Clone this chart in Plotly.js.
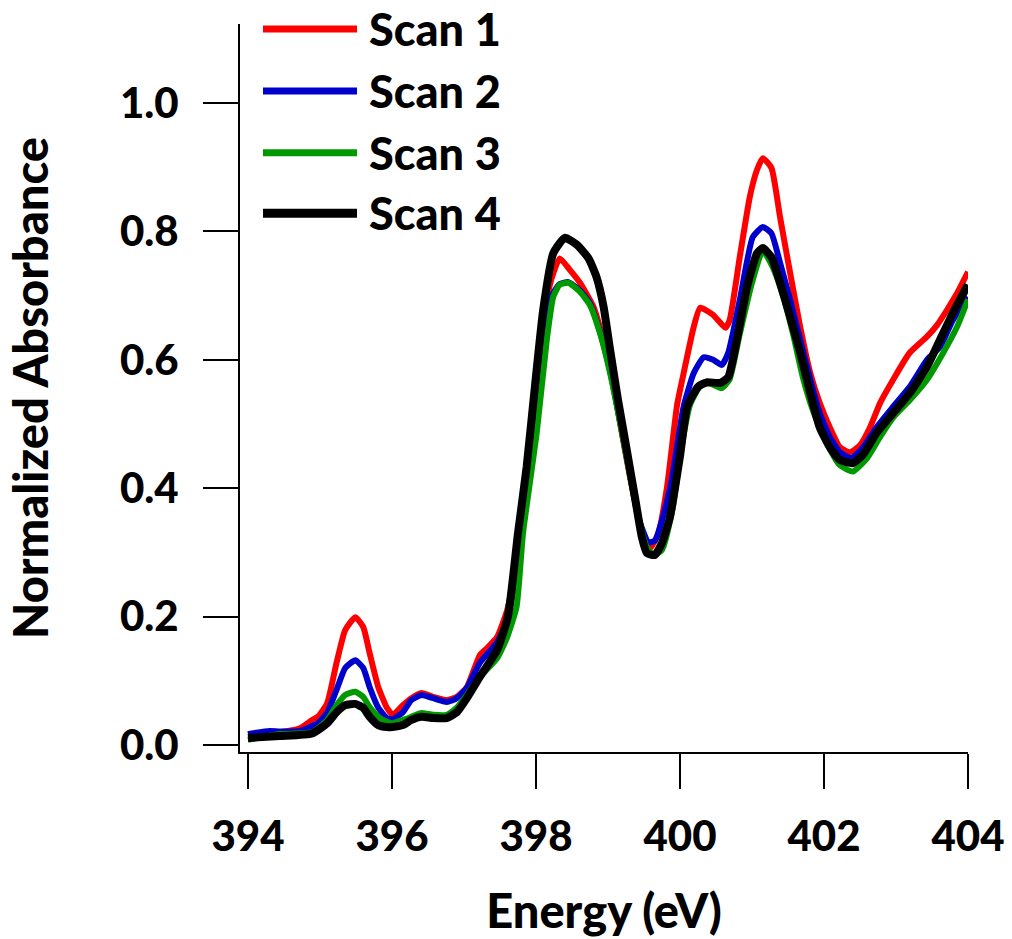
<!DOCTYPE html>
<html>
<head>
<meta charset="utf-8">
<script src="https://cdn.plot.ly/plotly-3.0.1.min.js"></script>
<style>html,body{margin:0;padding:0;background:#fff;}#chart{width:1012px;height:939px;}</style>
</head>
<body>
<div id="chart"></div>
<script>
// ---- data ----
const seriesNames = ["Scan 1", "Scan 2", "Scan 3", "Scan 4"];
const seriesColors = ["#ff0000", "#0000cc", "#009900", "#000000"];

const scan1X = [394.0,394.3,394.44,394.72,394.89,394.97,395.1,395.23,395.35,395.49,395.6,395.69,395.81,395.93,396.01,396.15,396.27,396.41,396.57,396.76,396.9,397.04,397.22,397.32,397.46,397.6,397.75,397.87,398.0,398.1,398.22,398.33,398.47,398.61,398.8,398.94,399.03,399.17,399.31,399.44,399.58,399.7,399.82,399.96,400.05,400.19,400.28,400.46,400.63,400.69,400.83,400.97,401.07,401.15,401.27,401.39,401.53,401.67,401.81,401.94,402.08,402.22,402.36,402.5,402.64,402.78,402.96,403.19,403.43,403.57,403.71,403.85,404.0];
const scan1Y = [0.017,0.019,0.020,0.026,0.039,0.044,0.065,0.128,0.179,0.199,0.184,0.143,0.090,0.058,0.047,0.062,0.073,0.081,0.075,0.070,0.075,0.090,0.140,0.151,0.168,0.21,0.29,0.42,0.57,0.67,0.728,0.758,0.740,0.720,0.682,0.63,0.59,0.50,0.415,0.345,0.306,0.33,0.402,0.53,0.579,0.651,0.681,0.670,0.650,0.662,0.760,0.854,0.896,0.914,0.899,0.822,0.735,0.651,0.579,0.533,0.495,0.464,0.456,0.467,0.495,0.533,0.569,0.611,0.636,0.654,0.678,0.704,0.737];

const scan2X = [394.0,394.3,394.44,394.72,394.97,395.1,395.23,395.35,395.49,395.6,395.69,395.81,395.93,396.01,396.15,396.27,396.41,396.57,396.76,396.9,397.04,397.22,397.46,397.6,397.75,397.87,398.0,398.1,398.22,398.33,398.45,398.61,398.75,398.89,399.03,399.17,399.31,399.44,399.56,399.65,399.75,399.88,400.05,400.19,400.33,400.46,400.58,400.67,400.83,401.01,401.15,401.27,401.39,401.53,401.67,401.81,401.94,402.08,402.22,402.38,402.54,402.73,402.96,403.19,403.43,403.61,403.79,404.0];
const scan2Y = [0.017,0.022,0.021,0.022,0.034,0.050,0.086,0.120,0.132,0.120,0.090,0.058,0.042,0.040,0.051,0.070,0.078,0.073,0.067,0.073,0.089,0.128,0.160,0.195,0.28,0.40,0.54,0.64,0.700,0.718,0.721,0.708,0.688,0.643,0.582,0.503,0.418,0.348,0.316,0.318,0.35,0.41,0.527,0.579,0.604,0.600,0.592,0.611,0.693,0.791,0.807,0.797,0.751,0.693,0.631,0.569,0.517,0.480,0.456,0.447,0.463,0.495,0.527,0.558,0.600,0.620,0.662,0.698];

const scan3X = [394.0,394.44,394.89,395.1,395.23,395.35,395.49,395.6,395.69,395.81,395.93,396.01,396.15,396.27,396.41,396.57,396.76,396.9,397.04,397.22,397.46,397.6,397.73,397.82,398.01,398.15,398.24,398.33,398.45,398.61,398.75,398.89,399.03,399.17,399.31,399.44,399.54,399.63,399.75,399.9,400.0,400.14,400.3,400.42,400.58,400.69,400.83,401.0,401.15,401.29,401.43,401.57,401.71,401.85,402.04,402.22,402.4,402.6,402.78,402.96,403.19,403.43,403.65,403.85,404.0];
const scan3Y = [0.008,0.017,0.020,0.039,0.062,0.078,0.083,0.075,0.059,0.044,0.036,0.034,0.039,0.044,0.050,0.047,0.047,0.058,0.078,0.106,0.135,0.168,0.215,0.33,0.486,0.631,0.698,0.717,0.720,0.706,0.685,0.641,0.579,0.501,0.417,0.346,0.308,0.296,0.304,0.37,0.45,0.53,0.562,0.563,0.556,0.57,0.64,0.72,0.77,0.744,0.70,0.64,0.571,0.52,0.47,0.436,0.426,0.447,0.48,0.51,0.537,0.569,0.61,0.652,0.694];

const scan4X = [394.0,394.44,394.89,395.1,395.23,395.35,395.49,395.6,395.69,395.81,395.93,396.01,396.15,396.27,396.41,396.57,396.76,396.9,397.04,397.22,397.46,397.61,397.75,397.87,397.99,398.1,398.24,398.4,398.57,398.73,398.84,398.94,399.03,399.14,399.26,399.38,399.47,399.54,399.65,399.75,399.86,400.0,400.1,400.25,400.37,400.56,400.67,400.79,400.93,401.07,401.15,401.27,401.39,401.53,401.67,401.81,401.94,402.08,402.22,402.4,402.54,402.73,402.96,403.19,403.43,403.61,403.79,404.0];
const scan4Y = [0.011,0.014,0.018,0.034,0.051,0.062,0.064,0.058,0.044,0.031,0.028,0.028,0.031,0.039,0.044,0.042,0.042,0.051,0.073,0.106,0.148,0.20,0.33,0.433,0.564,0.678,0.766,0.790,0.779,0.758,0.729,0.682,0.615,0.537,0.460,0.382,0.324,0.299,0.296,0.315,0.355,0.45,0.527,0.558,0.565,0.564,0.573,0.631,0.713,0.766,0.774,0.760,0.720,0.667,0.611,0.548,0.495,0.464,0.444,0.439,0.452,0.486,0.517,0.548,0.589,0.631,0.673,0.717];

const xTicks = [394, 396, 398, 400, 402, 404];
const yTicks = [0.0, 0.2, 0.4, 0.6, 0.8, 1.0];
const xTitle = "Energy (eV)";
const yTitle = "Normalized Absorbance";

// ---- chart ----
const xs = [scan1X, scan2X, scan3X, scan4X];
const ys = [scan1Y, scan2Y, scan3Y, scan4Y];
const widths = [6, 6, 6, 8];
const traces = seriesNames.map((n, i) => ({
  type: "scatter", mode: "lines", name: n,
  x: xs[i], y: ys[i],
  line: {color: seriesColors[i], width: widths[i], shape: "spline", smoothing: 0.5},
  showlegend: false, hoverinfo: "skip"
}));

const FONT = "Lato, 'Open Sans', sans-serif";
const tickFont = {family: FONT, size: 42, color: "#000", weight: 900};
const titleFont = {family: FONT, size: 47, color: "#000", weight: 900};
const legFont = {family: FONT, size: 45, color: "#000", weight: 900};

// custom legend (long sample lines like the reference)
const legY = [0.993, 0.908, 0.823, 0.740];
const shapes = [], annotations = [];
seriesNames.forEach((n, i) => {
  shapes.push({type: "line", xref: "paper", yref: "paper", x0: 0.0316, x1: 0.1607, y0: legY[i], y1: legY[i],
    line: {color: seriesColors[i], width: widths[i] + 1}});
  annotations.push({xref: "paper", yref: "paper", x: 0.1745, y: legY[i], xanchor: "left", yanchor: "middle",
    text: n, showarrow: false, font: legFont});
});

const layout = {
  width: 1012, height: 939,
  margin: {l: 240, r: 44, t: 24, b: 187, pad: 0},
  paper_bgcolor: "#fff", plot_bgcolor: "#fff",
  showlegend: false,
  xaxis: {
    range: [393.889, 404.0], tickvals: xTicks, ticktext: xTicks.map(String),
    showgrid: false, zeroline: false, showline: true, linecolor: "#000", linewidth: 2,
    ticks: "outside", ticklen: 35, tickwidth: 2, tickcolor: "#000",
    tickfont: tickFont, ticklabelstandoff: 12,
    title: {text: xTitle, font: titleFont, standoff: 36}
  },
  yaxis: {
    range: [-0.0109, 1.1231], tickvals: yTicks, ticktext: yTicks.map(v => v.toFixed(1)),
    showgrid: false, zeroline: false, showline: true, linecolor: "#000", linewidth: 2,
    ticks: "outside", ticklen: 35, tickwidth: 2, tickcolor: "#000",
    tickfont: tickFont, ticklabelstandoff: 16,
    title: {text: yTitle, font: titleFont, standoff: 56}
  },
  shapes: shapes,
  annotations: annotations
};

Plotly.newPlot("chart", traces, layout, {staticPlot: true, displayModeBar: false});
</script>
</body>
</html>
